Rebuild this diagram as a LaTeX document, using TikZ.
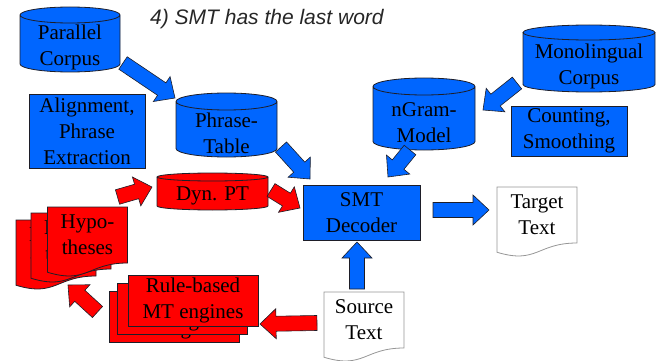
\documentclass[tikz,border=0pt]{standalone}
\usepackage{fontspec}
\setmainfont{Liberation Serif}
\newfontfamily\boxfont{Liberation Serif}
\newfontfamily\headfont{Liberation Sans}
\usetikzlibrary{calc}

\definecolor{smtblue}{RGB}{0,102,255}
\definecolor{hypred}{RGB}{255,0,0}
\definecolor{ink}{RGB}{30,30,40}
\definecolor{pagegray}{RGB}{150,150,150}

% own shapes: database can and document page
\makeatletter
\newdimen\shL \newdimen\shR \newdimen\shT \newdimen\shB
\newdimen\shM \newdimen\shRx \newdimen\shRy
\tikzset{db cap/.initial=8pt}
\pgfdeclareshape{dbase}{
  \inheritsavedanchors[from=rectangle]
  \inheritanchorborder[from=rectangle]
  \inheritanchor[from=rectangle]{center}
  \inheritanchor[from=rectangle]{north}
  \inheritanchor[from=rectangle]{south}
  \inheritanchor[from=rectangle]{east}
  \inheritanchor[from=rectangle]{west}
  \inheritanchor[from=rectangle]{north east}
  \inheritanchor[from=rectangle]{north west}
  \inheritanchor[from=rectangle]{south east}
  \inheritanchor[from=rectangle]{south west}
  \inheritanchor[from=rectangle]{text}
  \inheritanchor[from=rectangle]{base}
  \inheritanchor[from=rectangle]{mid}
  \saveddimen\capry{\pgfmathsetlength\pgf@x{\pgfkeysvalueof{/tikz/db cap}}}
  \backgroundpath{%
    \southwest \shL=\pgf@x \shB=\pgf@y
    \northeast \shR=\pgf@x \shT=\pgf@y
    \shRy=\capry
    \shRx=.5\shR \advance\shRx by -.5\shL
    \shM=.5\shL \advance\shM by .5\shR
    \advance\shT by \shRy \advance\shB by \shRy
    \pgfpathmoveto{\pgfqpoint{\shL}{\shT}}%
    \pgfpathlineto{\pgfqpoint{\shL}{\shB}}%
    \pgfpatharc{180}{360}{\shRx and \shRy}%
    \pgfpathlineto{\pgfqpoint{\shR}{\shT}}%
    \pgfpatharc{0}{180}{\shRx and \shRy}%
    \pgfpathclose
    \pgfpathellipse{\pgfqpoint{\shM}{\shT}}{\pgfqpoint{\shRx}{0pt}}{\pgfqpoint{0pt}{\shRy}}%
  }
}
\pgfdeclareshape{docpage}{
  \inheritsavedanchors[from=rectangle]
  \inheritanchorborder[from=rectangle]
  \inheritanchor[from=rectangle]{center}
  \inheritanchor[from=rectangle]{north}
  \inheritanchor[from=rectangle]{south}
  \inheritanchor[from=rectangle]{east}
  \inheritanchor[from=rectangle]{west}
  \inheritanchor[from=rectangle]{north east}
  \inheritanchor[from=rectangle]{north west}
  \inheritanchor[from=rectangle]{south east}
  \inheritanchor[from=rectangle]{south west}
  \inheritanchor[from=rectangle]{text}
  \inheritanchor[from=rectangle]{base}
  \inheritanchor[from=rectangle]{mid}
  \backgroundpath{%
    \southwest \shL=\pgf@x \shB=\pgf@y
    \northeast \shR=\pgf@x \shT=\pgf@y
    \shM=.5\shL \advance\shM by .5\shR
    \shRy=\shT \advance\shRy by -\shB
    \shRx=\shB \advance\shRx by -.382\shRy
    \pgfpathmoveto{\pgfqpoint{\shL}{\shT}}%
    \pgfpathlineto{\pgfqpoint{\shR}{\shT}}%
    \pgfpathlineto{\pgfqpoint{\shR}{\shB}}%
    \shT=\shB \advance\shT by -.165\shRy
    \pgfpathcurveto{\pgfqpoint{\shM}{\shB}}{\pgfqpoint{\shM}{\shRx}}{\pgfqpoint{\shL}{\shT}}%
    \pgfpathclose
  }
}
\makeatother

\tikzset{
  box/.style={font=\boxfont\fontsize{21}{26}\selectfont, align=center, inner sep=0pt,
    outer sep=0pt, line width=0.8pt, draw=ink},
  store/.style={box, dbase, fill=smtblue},
  tool/.style={box, rectangle, fill=smtblue},
  text page/.style={box, docpage, fill=white, draw=pagegray, minimum width=80, minimum height=56},
  red page/.style={box, docpage, fill=hypred, minimum width=80, minimum height=56},
  engine/.style={box, rectangle, fill=hypred, minimum width=130, minimum height=51},
  headline/.style={font=\headfont\itshape\fontsize{21}{25}\selectfont, text=black!85, anchor=base west, inner sep=0pt},
  fatarrow/.style={draw=ink, line width=0.6pt, fill=#1,
    to path={let \p1=($(\tikztotarget)-(\tikztostart)$), \n1={atan2(\y1,\x1)} in
      ($(\tikztostart)+(\n1+90:7.5pt)$)
      -- ($(\tikztotarget)!16pt!(\tikztostart)+(\n1+90:7.5pt)$)
      -- ($(\tikztotarget)!16pt!(\tikztostart)+(\n1+90:15pt)$)
      -- (\tikztotarget)
      -- ($(\tikztotarget)!16pt!(\tikztostart)+(\n1-90:15pt)$)
      -- ($(\tikztotarget)!16pt!(\tikztostart)+(\n1-90:7.5pt)$)
      -- ($(\tikztostart)+(\n1-90:7.5pt)$) -- cycle}}
}

\begin{document}
\begin{tikzpicture}[x=1pt,y=-1pt]
  \useasboundingbox (0,0) rectangle (656,361);
  \node[headline] (head) at (150,25) {4) SMT has the last word};

  % statistical side
  \node[store, db cap=8pt, minimum width=100, minimum height=49] (pc) at (70,47.5) {Parallel\\Corpus};
  \node[tool, minimum width=116, minimum height=74] (ape) at (87,131) {Alignment,\\Phrase\\Extraction};
  \node[store, db cap=8.5pt, minimum width=101, minimum height=47] (pt) at (226.5,133.5) {Phrase-\\Table};
  \node[store, db cap=7.5pt, minimum width=132, minimum height=52] (mc) at (589,66) {Monolingual\\Corpus};
  \node[store, db cap=8.5pt, minimum width=102, minimum height=55] (ng) at (424,122.5) {nGram-\\Model};
  \node[tool, minimum width=116, minimum height=50] (cs) at (569,131) {Counting,\\Smoothing};
  \node[store, db cap=4pt, fill=hypred, minimum width=111, minimum height=29] (dyn) at (212.5,195.5) {Dyn. PT};
  \node[tool, minimum width=117, minimum height=55] (dec) at (361.5,212.5) {SMT\\Decoder};
  \node[text page] (tgt) at (537,215) {Target\\Text};
  \node[text page] (src) at (364,320) {Source\\Text};

  % rule-based side
  \node[red page] (hyp3) at (56,248) {Hypo-\\theses};
  \node[red page] (hyp2) at (71,241) {Hypo-\\theses};
  \node[red page] (hyp1) at (87.5,235) {Hypo-\\theses};
  \node[engine] (rb3) at (174.5,316.5) {Rule-based\\MT engines};
  \node[engine] (rb2) at (182.5,308.5) {Rule-based\\MT engines};
  \node[engine] (rb1) at (193,300.5) {Rule-based\\MT engines};

  % block arrows
  \draw[fatarrow=smtblue] ([shift={(3,-9)}]pc.south east) to ([shift={(-1,-12)}]pt.north west);
  \draw[fatarrow=smtblue] ([shift={(4,-10)}]pt.south east) to ([shift={(7,-6)}]dec.north west);
  \draw[fatarrow=smtblue] ([shift={(-6,-9)}]mc.south west) to ([shift={(8,15)}]ng.north east);
  \draw[fatarrow=smtblue] ([shift={(-14,0)}]ng.south) to ([shift={(26.5,-8)}]dec.north);
  \draw[fatarrow=smtblue] ([shift={(13,-2.5)}]dec.east) to ([shift={(-8,-5)}]tgt.west);
  \draw[fatarrow=smtblue] ([shift={(-7,-3)}]src.north) to ([shift={(-4.5,2)}]dec.south);
  \draw[fatarrow=hypred] ([shift={(-10,-10)}]hyp1.north east) to ([shift={(-5,-8.5)}]dyn.west);
  \draw[fatarrow=hypred] ([shift={(3,-5.5)}]dyn.east) to ([shift={(-3,-4.5)}]dec.west);
  \draw[fatarrow=hypred] ([shift={(-7,3)}]src.west) to ([shift={(2,-2)}]rb1.south east);
  \draw[fatarrow=hypred] ([shift={(-12,-4.5)}]rb3.west) to ([shift={(12,9)}]hyp3.south);
\end{tikzpicture}
\end{document}
